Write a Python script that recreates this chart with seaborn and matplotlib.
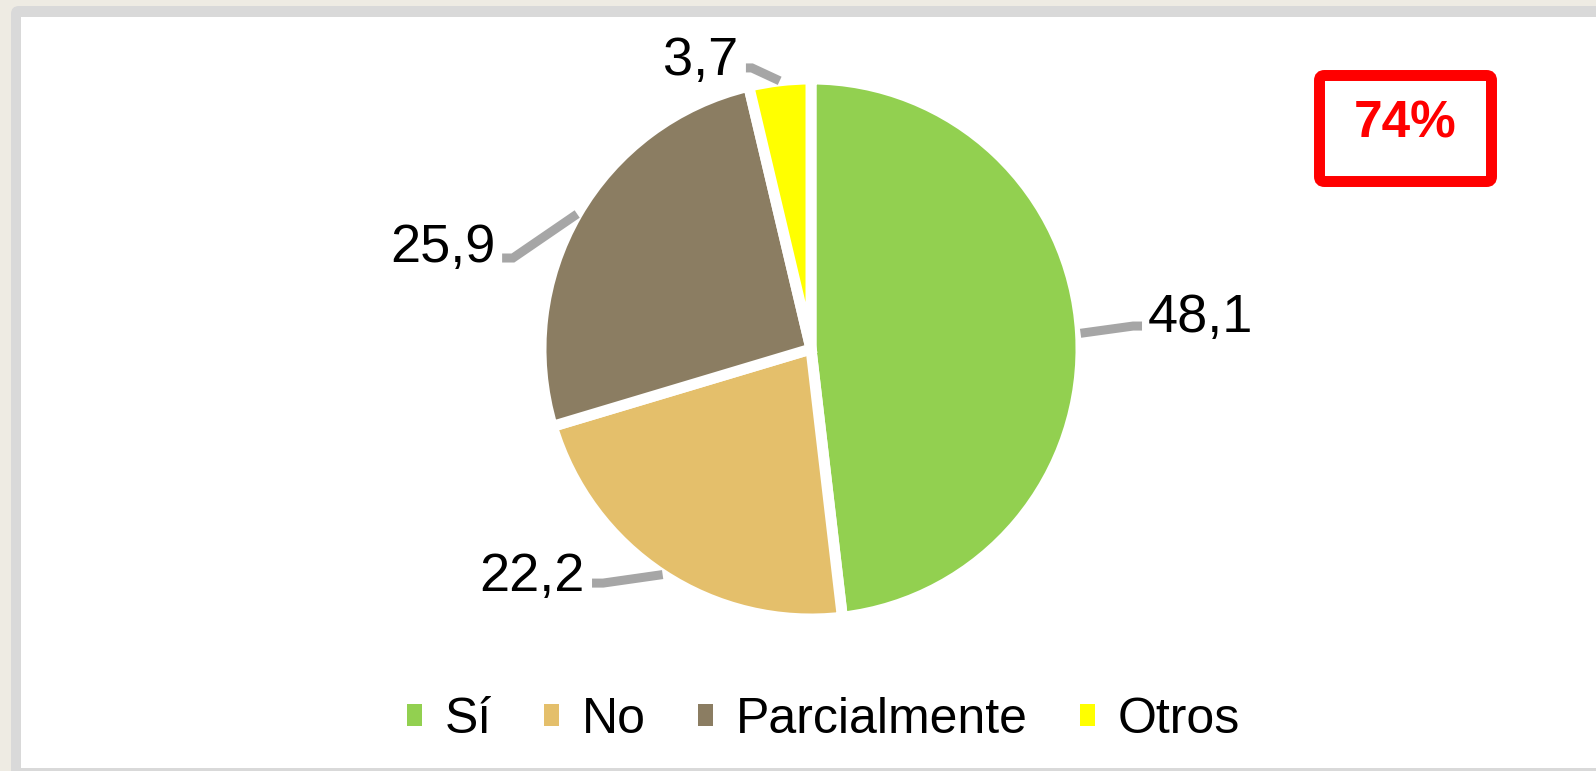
import matplotlib
matplotlib.use('Agg')
import numpy as np
import seaborn as sns
from matplotlib import pyplot as plt
from matplotlib.patches import FancyBboxPatch, Patch

# datos del gráfico
categorias = ['Sí', 'No', 'Parcialmente', 'Otros']
valores = [48.1, 22.2, 25.9, 3.7]
etiquetas = ['48,1', '22,2', '25,9', '3,7']
resaltado = '74%'

colores = ['#92D050', '#E4BF6B', '#8B7D62', '#FFFF00']

sns.set_theme(style='white')
plt.rcParams['font.family'] = ['Liberation Sans', 'DejaVu Sans']
paleta = sns.color_palette(colores)

fig = plt.figure(figsize=(15.96, 7.71), dpi=100)
fig.patch.set_facecolor('#EEEBE3')
pulg = fig.dpi_scale_trans  # 1 unidad = 100 px

# marco gris y panel blanco (detrás de todo)
fig.patches.append(FancyBboxPatch((0.11, -0.3), 16.2, 7.95, boxstyle='round,pad=0,rounding_size=0.08',
                                  facecolor='#D9D9D9', edgecolor='none', transform=pulg,
                                  figure=fig, zorder=-2))
fig.patches.append(FancyBboxPatch((0.21, 0.03), 16.0, 7.51, boxstyle='square,pad=0',
                                  facecolor='white', edgecolor='none', transform=pulg,
                                  figure=fig, zorder=-1))

# eje de la torta: centro en (811, 349) px, radio 270 px
R = 270.0
cx, cy = 811.0, 349.0
ax = fig.add_axes([0, 0, 1, 1])
wedges, _ = ax.pie(valores, colors=paleta, startangle=90, counterclock=False, radius=1,
                   wedgeprops=dict(edgecolor='white', linewidth=7.9))
ax.set_aspect('auto')
ax.set_xlim(-cx / R, (1596 - cx) / R)
ax.set_ylim(-(771 - cy) / R, cy / R)
ax.set_axis_off()
ax.patch.set_alpha(0)

# posición de cada etiqueta (codo de la línea, fin, texto, alineación)
disposicion = [
    ((1.193, 0.085), 1.226, (1.248, 0.063), 'left'),
    ((-0.770, -0.867), -0.811, (-0.837, -0.896), 'right'),
    ((-1.104, 0.337), -1.144, (-1.167, 0.322), 'right'),
    ((-0.219, 1.041), -0.241, (-0.270, 1.015), 'right'),
]

for w, txt, (codo, fin, pos, ha) in zip(wedges, etiquetas, disposicion):
    ang = np.deg2rad((w.theta1 + w.theta2) / 2)
    x0, y0 = np.cos(ang) * 1.0, np.sin(ang) * 1.0
    ax.plot([x0, codo[0], fin], [y0, codo[1], codo[1]], color='#A6A6A6', lw=6.5,
            solid_capstyle='butt', solid_joinstyle='miter')
    ax.text(pos[0], pos[1], txt, ha=ha, va='baseline', fontsize=39, color='black')

# leyenda inferior
manijas = [Patch(facecolor=c, edgecolor='none') for c in paleta]
ley = fig.legend(manijas, categorias, loc='center', bbox_to_anchor=(8.235, 0.51), bbox_transform=pulg,
                 ncol=4, frameon=False, fontsize=36, handlelength=0.3, handleheight=0.3,
                 handletextpad=0.45, columnspacing=1.05, borderaxespad=0, borderpad=0)
for t in ley.get_texts():
    t.set_color('black')

# recuadro rojo con el porcentaje
fig.patches.append(FancyBboxPatch((13.195, 7.71 - 1.815), 1.72, 1.06,
                                  boxstyle='round,pad=0,rounding_size=0.05',
                                  facecolor='white', edgecolor='#FF0000', linewidth=7.9,
                                  transform=pulg, figure=fig, zorder=2))
fig.text(14.055, 7.71 - 1.37, resaltado, transform=pulg, ha='center', va='baseline',
         fontsize=37, fontweight='bold', color='#FF0000', zorder=3)

fig.savefig('out.png', dpi=100, facecolor=fig.get_facecolor())
